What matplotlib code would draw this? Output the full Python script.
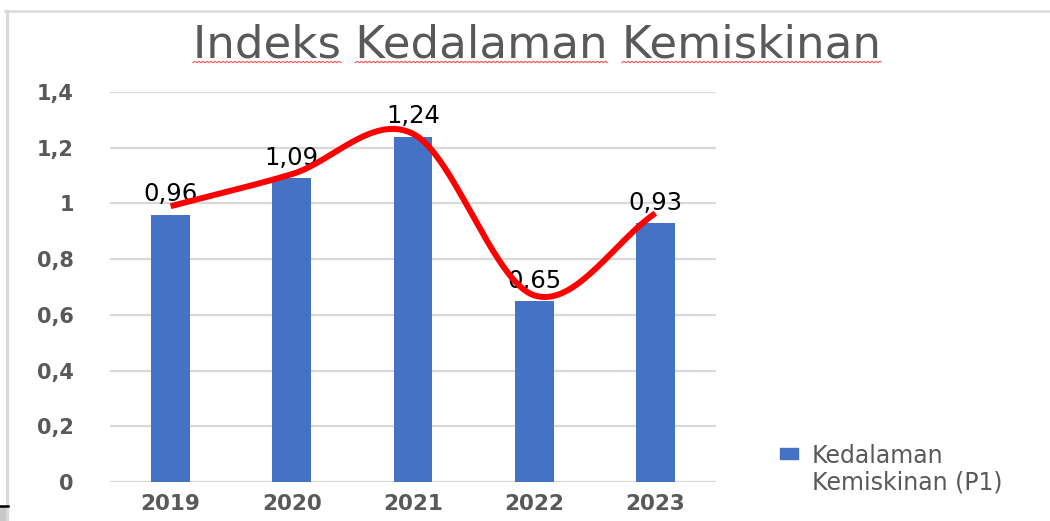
import numpy as np
import matplotlib
matplotlib.use("Agg")
import matplotlib.pyplot as plt
from matplotlib.ticker import FuncFormatter, MultipleLocator
from matplotlib.lines import Line2D
from matplotlib.patches import Rectangle

# ---------------- data ----------------
years = ["2019", "2020", "2021", "2022", "2023"]
p1_values = [0.96, 1.09, 1.24, 0.65, 0.93]
value_labels = ["0,96", "1,09", "1,24", "0,65", "0,93"]
# hand-drawn red trend curve (sits slightly above bar tops)
trend_values = [0.99, 1.105, 1.25, 0.67, 0.965]
title_text = "Indeks Kedalaman Kemiskinan"
legend_label = "Kedalaman\nKemiskinan (P1)"

W, H = 1050, 521
BLUE = "#4472C4"
GRAY_TXT = "#595959"
GRID = "#D9D9D9"


def catmull_rom(xs, ys, n=40):
    P = np.column_stack([xs, ys]).astype(float)
    k = len(P)
    M = np.zeros_like(P)
    for i in range(k):
        if i == 0:
            M[i] = P[1] - P[0]
        elif i == k - 1:
            M[i] = P[-1] - P[-2]
        else:
            M[i] = (P[i + 1] - P[i - 1]) / 2.0
    out = []
    t = np.linspace(0, 1, n)
    h00 = 2 * t**3 - 3 * t**2 + 1
    h10 = t**3 - 2 * t**2 + t
    h01 = -2 * t**3 + 3 * t**2
    h11 = t**3 - t**2
    for i in range(k - 1):
        seg = (h00[:, None] * P[i] + h10[:, None] * M[i]
               + h01[:, None] * P[i + 1] + h11[:, None] * M[i + 1])
        out.append(seg if i == 0 else seg[1:])
    out = np.vstack(out)
    return out[:, 0], out[:, 1]


fig = plt.figure(figsize=(W / 100, H / 100), dpi=100)
fig.patch.set_facecolor("white")

ax = fig.add_axes([110 / W, 1 - 482 / H, (716 - 110) / W, (482 - 92) / H])
x = np.arange(len(years))
bars = ax.bar(x, p1_values, width=0.32, color=BLUE, zorder=2,
              label=legend_label)

ax.set_xlim(-0.5, len(years) - 0.5)
ax.set_ylim(0, 1.4)
ax.yaxis.set_major_locator(MultipleLocator(0.2))


def fmt(v, pos):
    v = round(v, 1)
    if abs(v - round(v)) < 1e-9:
        return f"{int(round(v))}"
    return f"{v:.1f}".replace(".", ",")


ax.yaxis.set_major_formatter(FuncFormatter(fmt))
ax.set_xticks(x)
ax.set_xticklabels(years)
ax.yaxis.grid(True, color=GRID, linewidth=1.6, zorder=0)
ax.set_axisbelow(True)
for s in ax.spines.values():
    s.set_visible(False)
ax.tick_params(axis="y", length=0, pad=26, labelsize=15,
               labelcolor=GRAY_TXT)
ax.tick_params(axis="x", length=0, pad=9, labelsize=15.5,
               labelcolor=GRAY_TXT)
for lab in ax.get_yticklabels() + ax.get_xticklabels():
    lab.set_fontweight("bold")

# data labels
for xi, v, lab in zip(x, p1_values, value_labels):
    ax.annotate(lab, (xi, v), xytext=(0, 9.5), textcoords="offset points",
                ha="center", va="baseline", fontsize=17.5, color="black",
                zorder=3)

# red smooth trend curve
cx, cy = catmull_rom(x, trend_values)
ax.plot(cx, cy, color="#FF0000", linewidth=4.3, solid_capstyle="butt",
        zorder=4)

# title
title = fig.text(537 / W, 1 - 58 / H, title_text, ha="center",
                 va="baseline", fontsize=32.5, color=GRAY_TXT)

# spell-check style red wavy underline under each word
renderer = fig.canvas.get_renderer()
bb = title.get_window_extent(renderer)
fp = title.get_fontproperties()
left_px = bb.x0
pos = 0
for word in title_text.split(" "):
    start = title_text.index(word, pos)
    pre_w = renderer.get_text_width_height_descent(title_text[:start], fp, ismath=False)[0] if start else 0
    end_w = renderer.get_text_width_height_descent(title_text[:start + len(word)], fp, ismath=False)[0]
    pos = start + len(word)
    xs = np.arange(left_px + pre_w, left_px + end_w + 0.5, 1.0)
    ph = (xs - xs[0]) % 4.0
    tri = np.where(ph < 2, ph / 2.0, (4 - ph) / 2.0)
    ys_px = (H - 62) + 1.4 * (tri - 0.5)
    fig.add_artist(Line2D(xs / W, ys_px / H, color="#FF5050",
                          linewidth=0.8, transform=fig.transFigure))

# legend (manual to mimic the reference placement)
fig.add_artist(Rectangle((780 / W, 1 - 459 / H), 18 / W, 11 / H,
                         transform=fig.transFigure, color=BLUE))
fig.text(812 / W, 1 - 444 / H, legend_label, ha="left", va="top",
         fontsize=17, color=GRAY_TXT, linespacing=1.15)

# chart frame edges visible in screenshot
fig.add_artist(Line2D([5 / W, 1], [1 - 11 / H] * 2, color=GRID,
                      linewidth=1.8, transform=fig.transFigure))
fig.add_artist(Line2D([7 / W, 7 / W], [1 - 11 / H, 0], color=GRID,
                      linewidth=2.2, transform=fig.transFigure))
fig.add_artist(Line2D([0, 8 / W], [1 - 506 / H] * 2, color="black",
                      linewidth=1.8, transform=fig.transFigure))
fig.add_artist(Rectangle((0, 0), 7 / W, 14 / H, transform=fig.transFigure,
                         color="#C8C8C8"))

fig.savefig("out.png", dpi=100, facecolor="white")
